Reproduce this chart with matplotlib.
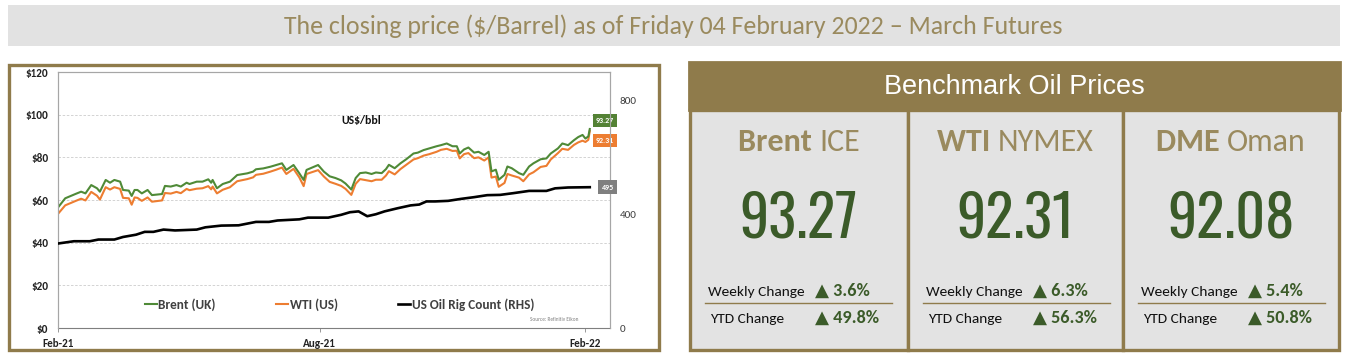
import matplotlib
matplotlib.use("Agg")
import matplotlib.pyplot as plt
from matplotlib.patches import Rectangle
from matplotlib import font_manager
from matplotlib.font_manager import FontProperties
import datetime as dt

# ---------------- data ----------------
price_days = [0, 5, 12, 16, 19, 23, 27, 29, 33, 36, 39, 43, 45, 49, 51, 53, 55, 58, 62, 65,
              72, 74, 78, 82, 85, 89, 91, 96, 100, 104, 106, 107, 110, 114, 119, 124, 131, 135,
              137, 142, 147, 151, 155, 158, 163, 167, 170, 172, 180, 184, 188, 192, 196, 199,
              203, 206, 209, 213, 217, 220, 224, 227, 229, 233, 237, 241, 246, 249, 253, 257,
              262, 265, 269, 273, 276, 278, 281, 284, 288, 291, 295, 298, 300, 303, 305, 309,
              311, 314, 319, 322, 326, 329, 334, 338, 341, 346, 349, 353, 357, 360, 363, 365,
              367, 368]
brent = [56.5, 60.8, 62.8, 63.9, 63.1, 67.0, 65.5, 63.9, 69.4, 68.1, 69.4, 68.6, 64.7, 64.4,
         61.9, 64.7, 64.7, 63.1, 64.7, 62.3, 62.8, 66.6, 66.3, 67.0, 66.3, 68.1, 67.5, 68.6,
         68.6, 69.7, 68.1, 69.4, 65.5, 67.5, 68.6, 71.7, 72.5, 73.3, 74.4, 74.8, 75.6, 76.4,
         77.2, 74.1, 76.4, 72.5, 69.4, 74.1, 76.4, 73.3, 71.1, 70.3, 69.2, 67.7, 64.9, 70.3,
         72.6, 72.9, 72.2, 72.9, 72.6, 74.5, 76.5, 74.9, 77.2, 79.1, 81.8, 82.2, 83.4, 84.2,
         85.2, 85.7, 86.5, 85.2, 85.2, 81.8, 83.7, 84.6, 82.2, 82.6, 81.1, 82.6, 73.4, 74.2,
         69.5, 71.8, 75.7, 74.9, 72.6, 71.8, 75.7, 77.2, 79.1, 79.5, 81.8, 84.2, 86.5, 85.7,
         88.0, 89.5, 90.5, 88.8, 89.8, 93.27]
wti = [53.5, 57.5, 59.5, 60.6, 59.8, 63.8, 62.0, 60.2, 66.0, 64.9, 66.0, 65.2, 61.0, 60.8,
       57.8, 61.2, 61.0, 59.6, 61.2, 59.2, 59.8, 63.3, 63.0, 63.8, 63.2, 65.2, 64.6, 65.3,
       65.5, 66.5, 65.0, 66.3, 63.1, 64.8, 66.0, 68.8, 69.8, 70.6, 71.8, 72.3, 73.3, 74.2,
       75.2, 72.2, 74.6, 70.6, 66.5, 72.2, 74.0, 71.0, 68.5, 67.6, 66.6, 65.2, 62.4, 67.6,
       69.8, 69.3, 68.8, 69.5, 69.5, 71.5, 73.5, 72.0, 74.5, 76.5, 79.0, 79.6, 80.8, 81.5,
       82.6, 83.5, 84.0, 83.0, 83.1, 79.5, 81.5, 82.0, 79.6, 80.0, 78.5, 80.0, 70.5, 71.0,
       66.2, 68.0, 72.2, 71.5, 70.5, 68.8, 72.0, 73.0, 75.5, 76.0, 79.0, 82.0, 84.0, 83.5,
       85.8, 87.0, 87.8, 87.2, 88.2, 92.31]
rig_days = [0, 11, 22, 28, 39, 45, 54, 60, 66, 73, 81, 96, 102, 113, 125, 137, 146, 152,
            167, 173, 187, 196, 202, 208, 214, 220, 226, 235, 244, 250, 255, 261, 270, 279,
            288, 297, 306, 315, 326, 338, 344, 353, 368]
rigs = [297, 305, 305, 311, 311, 320, 328, 338, 338, 346, 343, 346, 354, 360, 361, 373, 373,
        378, 382, 388, 388, 398, 407, 410, 393, 400, 410, 421, 431, 434, 445, 445, 447, 454,
        460, 467, 468, 474, 482, 482, 491, 494, 495]

start_date = dt.date(2021, 2, 1)
end_date = dt.date(2022, 2, 18)
tick_dates = [dt.date(2021, 2, 1), dt.date(2021, 8, 1), dt.date(2022, 2, 1)]
tick_labels = ["Feb-21", "Aug-21", "Feb-22"]
price_ticks = [0, 20, 40, 60, 80, 100, 120]
price_tick_labels = ["$0", "$20", "$40", "$60", "$80", "$100", "$120"]
rig_ticks = [0, 400, 800]

benchmarks = ["Brent", "WTI", "DME"]
exchanges = ["ICE", "NYMEX", "Oman"]
prices = ["93.27", "92.31", "92.08"]
weekly = ["3.6%", "6.3%", "5.4%"]
ytd = ["49.8%", "56.3%", "50.8%"]

title = "The closing price ($/Barrel) as of Friday 04 February 2022 \u2013 March Futures"

# ---------------- style ----------------
GOLD = "#8f7b4b"
GOLD_TXT = "#9a8a5e"
CELL = "#e3e3e3"
DKGREEN = "#3b5b29"
GREEN = "#4f8a37"
ORANGE = "#ed7d31"

entries = font_manager.fontManager.ttflist
names = {f.name for f in entries}
SANS = "Carlito" if "Carlito" in names else "Lato"

narrow_fp = None
for want in ["Oswald", "Archivo Narrow", "Liberation Sans Narrow", "Roboto Condensed"]:
    cands = [f for f in entries if f.name == want and f.style == "normal"]
    if cands:
        cands.sort(key=lambda f: abs((f.weight if isinstance(f.weight, int) else 400) - 450))
        narrow_fp = FontProperties(fname=cands[0].fname)
        break
if narrow_fp is None:
    narrow_fp = FontProperties(family="DejaVu Sans", stretch="condensed")

W, H = 1346, 357
fig = plt.figure(figsize=(W / 100, H / 100), dpi=100)
fig.patch.set_facecolor("white")

bg = fig.add_axes([0, 0, 1, 1])
bg.set_xlim(0, W)
bg.set_ylim(H, 0)
bg.axis("off")
bg.set_zorder(0)

fig.canvas.draw()
renderer = fig.canvas.get_renderer()

def width_px(t):
    return t.get_window_extent(renderer).width

def fit(t, target):
    w = width_px(t)
    t.set_fontsize(t.get_fontsize() * target / w)
    return t.get_fontsize()

def px_rect(x0, y0, x1, y1, **kw):
    bg.add_patch(Rectangle((x0, y0), x1 - x0, y1 - y0, **kw))

px_rect(8, 5, 1340, 46, facecolor="#e2e2e2", edgecolor="none")
tt = bg.text(673, 26.5, title, ha="center", va="center", fontsize=17, color=GOLD_TXT,
             family=SANS)
fit(tt, 780)

px_rect(8.5, 64.5, 658.5, 349.5, facecolor="white", edgecolor=GOLD, linewidth=2.4)

px_rect(689, 62, 1340, 110, facecolor=GOLD, edgecolor=GOLD, linewidth=2)
bg.text(1014.5, 87, "Benchmark Oil Prices", ha="center", va="center", fontsize=19.5,
        color="white", family="Liberation Sans")
cells = [(690, 908), (908, 1123), (1123, 1339)]
for (x0, x1) in cells:
    px_rect(x0, 110, x1, 349.5, facecolor=CELL, edgecolor=GOLD, linewidth=2.4)

probe = bg.text(0, -50, "Brent ICE", fontsize=20, weight="bold", family=SANS)
head_size = fit(probe, 122)
probe.set_text("Weekly Change"); probe.set_weight("normal"); probe.set_fontsize(10)
row_size = fit(probe, 97)
probe.set_text("\u25B2 3.6%"); probe.set_weight("bold"); probe.set_family([SANS, "DejaVu Sans"])
probe.set_fontsize(10)
val_size = fit(probe, 55)
probe.remove()

for i, (x0, x1) in enumerate(cells):
    cx = (x0 + x1) / 2
    t1 = bg.text(0, 142, benchmarks[i] + " ", ha="left", va="center", fontsize=head_size,
                 weight="bold", color=GOLD_TXT, family=SANS)
    t2 = bg.text(0, 142, exchanges[i], ha="left", va="center", fontsize=head_size,
                 color=GOLD_TXT, family=SANS)
    w1 = width_px(t1)
    w2 = width_px(t2)
    left = cx - (w1 + w2) / 2
    t1.set_x(left)
    t2.set_x(left + w1)
    bg.text(cx, 219, prices[i], ha="center", va="center", fontsize=42, color=DKGREEN,
            fontproperties=narrow_fp)
    bg.text(x0 + 18, 292, "Weekly Change", ha="left", va="center", fontsize=row_size,
            color="#111111", family=SANS)
    bg.text(x0 + 125, 291, "\u25B2 " + weekly[i], ha="left", va="center", fontsize=val_size,
            weight="bold", color=DKGREEN, family=[SANS, "DejaVu Sans"])
    bg.plot([x0 + 15, x0 + 202], [303, 303], color=GOLD, lw=1.0)
    bg.text(x0 + 20, 319, "YTD Change", ha="left", va="center", fontsize=row_size,
            color="#111111", family=SANS)
    bg.text(x0 + 125, 318, "\u25B2 " + ytd[i], ha="left", va="center", fontsize=val_size,
            weight="bold", color=DKGREEN, family=[SANS, "DejaVu Sans"])

# ---------------- chart ----------------
L, R, T, B = 58, 610, 72, 328
ax = fig.add_axes([L / W, 1 - B / H, (R - L) / W, (B - T) / H])
ax.set_zorder(2)
ax.patch.set_alpha(0)

pdates = [start_date + dt.timedelta(days=d) for d in price_days]
rdates = [start_date + dt.timedelta(days=d) for d in rig_days]

ax2 = ax.twinx()
ax2.plot(rdates, rigs, color="black", lw=1.9, label="US Oil Rig Count (RHS)", zorder=3)
ax2.set_ylim(0, 900)
ax2.set_yticks(rig_ticks)
ax2.tick_params(axis="y", length=0, labelsize=8, labelcolor="#404040", pad=7)
for lab in ax2.get_yticklabels():
    lab.set_family(SANS)

ax.plot(pdates, wti, color=ORANGE, lw=1.5, label="WTI (US)", zorder=4)
ax.plot(pdates, brent, color=GREEN, lw=1.5, label="Brent (UK)", zorder=5)
ax.set_ylim(0, 120)
ax.set_yticks(price_ticks)
ax.set_yticklabels(price_tick_labels)
ax.set_xlim(start_date, end_date)
ax.set_xticks(tick_dates)
ax.set_xticklabels(tick_labels)
ax.tick_params(axis="y", length=0, labelsize=8, pad=7, labelcolor="#222222")
ax.tick_params(axis="x", length=3, width=0.6, color="#888888", labelsize=8, pad=4,
               labelcolor="#222222")
for lab in ax.get_yticklabels() + ax.get_xticklabels():
    lab.set_family(SANS)
    lab.set_weight("bold")
ax.grid(axis="y", color="#cccccc", linestyle=(0, (3, 2)), lw=0.6)
ax.set_axisbelow(True)
for sp in ["left", "right", "top"]:
    ax.spines[sp].set_color("#a6a6a6")
    ax.spines[sp].set_linewidth(0.8)
    ax2.spines[sp].set_color("#a6a6a6")
    ax2.spines[sp].set_linewidth(0.8)
ax.spines["bottom"].set_color("#7f7f7f")
ax2.spines["bottom"].set_visible(False)

ax.text(0.55, 0.81, "US$/bbl", transform=ax.transAxes, ha="center", va="center",
        fontsize=8.5, weight="bold", family=SANS, color="#111111")

ax.annotate(f"{brent[-1]:.2f}", xy=(pdates[-1], brent[-1]), xytext=(11, 6),
            textcoords="offset points", ha="center", va="center", fontsize=5.8,
            weight="bold", color="white", family=SANS,
            bbox=dict(boxstyle="square,pad=0.35", fc="#548235", ec="none"), zorder=10)
ax.annotate(f"{wti[-1]:.2f}", xy=(pdates[-1], wti[-1]), xytext=(11, -7),
            textcoords="offset points", ha="center", va="center", fontsize=5.8,
            weight="bold", color="white", family=SANS,
            bbox=dict(boxstyle="square,pad=0.35", fc=ORANGE, ec="none"), zorder=10)
ax2.annotate(f"{rigs[-1]}", xy=(rdates[-1], rigs[-1]), xytext=(13, 0),
             textcoords="offset points", ha="center", va="center", fontsize=5.8,
             weight="bold", color="white", family=SANS,
             bbox=dict(boxstyle="square,pad=0.4", fc="#7f7f7f", ec="none"), zorder=10)

h1, l1 = ax.get_legend_handles_labels()
h2, l2 = ax2.get_legend_handles_labels()
leg = ax.legend([h1[1], h1[0], h2[0]], [l1[1], l1[0], l2[0]], loc="lower center",
                bbox_to_anchor=(0.51, 0.02), ncol=3, frameon=False, handlelength=0.9,
                handletextpad=0.1, columnspacing=4.6,
                prop={"family": SANS, "weight": "bold", "size": 9.5})
for t in leg.get_texts():
    t.set_color("#404040")
ax.text(0.855, 0.035, "Source: Refinitiv Eikon", transform=ax.transAxes, fontsize=3.8,
        color="#7f7f7f", family=SANS, ha="left", va="center")

fig.savefig("out.png", dpi=100, facecolor="white")
